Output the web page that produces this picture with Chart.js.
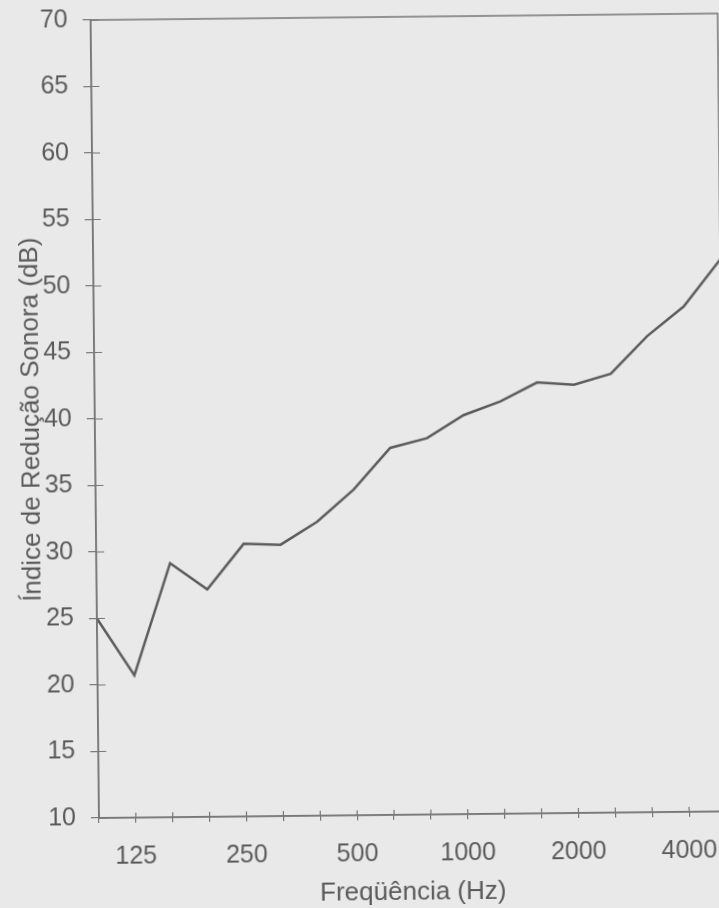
<!DOCTYPE html>
<html>
<head>
<meta charset="utf-8">
<script src="https://cdn.jsdelivr.net/npm/chart.js@4/dist/chart.umd.min.js"></script>
<style>
html, body { margin: 0; padding: 0; overflow: hidden; background: #e9e9e9; }
#wrap { position: absolute; left: 0; top: 0; width: 760px; height: 908px;
        transform-origin: 99px 818px; transform: rotate(-0.6deg); }
</style>
</head>
<body>
<div id="wrap"><canvas id="curve" width="760" height="908"></canvas></div>
<script>
// third-octave bands (Hz) and the sound reduction index measured in each (dB)
const bandLabels = ['100', '125', '160', '200', '250', '315', '400', '500', '630',
                    '800', '1000', '1250', '1600', '2000', '2500', '3150', '4000', '5000'];
const shownLabels = ['125', '250', '500', '1000', '2000', '4000'];
const reductionIndex = [25.0, 20.7, 29.1, 27.1, 30.5, 30.4, 32.1, 34.5, 37.6,
                        38.3, 40.0, 41.0, 42.4, 42.2, 43.0, 45.8, 48.0, 51.5];
const yMin = 10, yMax = 70, yStep = 5;

const inkColor = '#5c5c5c';
const axisColor = '#777777';
const textColor = '#5a5a5a';
const fontFamily = '"Liberation Sans", Arial, sans-serif';

// closes the box on top/right and adds the inner half of each tick mark
const frame = {
    id: 'frame',
    afterDraw(chart) {
        const ctx = chart.ctx;
        const a = chart.chartArea;
        const x = chart.scales.x, y = chart.scales.y;
        ctx.save();
        ctx.strokeStyle = axisColor;
        ctx.lineWidth = 1.5;
        ctx.strokeRect(a.left, a.top, a.right - a.left, a.bottom - a.top);
        ctx.lineWidth = 1.2;
        ctx.beginPath();
        y.ticks.forEach(function(t, i) {
            const py = y.getPixelForTick(i);
            ctx.moveTo(a.left, py);
            ctx.lineTo(a.left + 8, py);
        });
        x.ticks.forEach(function(t, i) {
            const px = x.getPixelForTick(i);
            ctx.moveTo(px, a.bottom);
            ctx.lineTo(px, a.bottom - 5);
        });
        ctx.stroke();
        ctx.restore();
    }
};

new Chart(document.getElementById('curve').getContext('2d'), {
    type: 'line',
    data: {
        labels: bandLabels,
        datasets: [{
            data: reductionIndex,
            borderColor: inkColor,
            borderWidth: 2.5,
            pointRadius: 0,
            tension: 0,
            fill: false
        }]
    },
    options: {
        responsive: false,
        animation: false,
        layout: { padding: { top: 20, right: 34, left: 0, bottom: 0 } },
        plugins: { legend: { display: false }, tooltip: { enabled: false } },
        scales: {
            x: {
                type: 'category',
                offset: false,
                afterFit: function(scale) { scale.height = 90; },
                grid: { drawOnChartArea: false, drawTicks: true, tickLength: 5,
                        color: axisColor, lineWidth: 1.2 },
                border: { display: true, color: axisColor, width: 1.5 },
                ticks: {
                    autoSkip: false,
                    maxRotation: 0,
                    padding: 19,
                    color: textColor,
                    font: { family: fontFamily, size: 25 },
                    callback: function(value) {
                        const lab = this.getLabelForValue(value);
                        return shownLabels.includes(lab) ? lab : '';
                    }
                },
                title: {
                    display: true,
                    text: 'Freqüência (Hz)',
                    color: textColor,
                    font: { family: fontFamily, size: 26 },
                    padding: { top: 0, bottom: -3 }
                }
            },
            y: {
                min: yMin,
                max: yMax,
                afterFit: function(scale) {
                    scale.width = 99;
                    scale.paddingTop = 0;
                    scale.paddingBottom = 0;
                },
                grid: { drawOnChartArea: false, drawTicks: true, tickLength: 8,
                        color: axisColor, lineWidth: 1.2 },
                border: { display: true, color: axisColor, width: 1.5 },
                ticks: {
                    stepSize: yStep,
                    padding: 15,
                    color: textColor,
                    font: { family: fontFamily, size: 25 }
                },
                title: {
                    display: true,
                    text: 'Índice de Redução Sonora (dB)',
                    color: textColor,
                    font: { family: fontFamily, size: 26 },
                    padding: { top: 20, bottom: 0 }
                }
            }
        }
    },
    plugins: [frame]
});
</script>
</body>
</html>
